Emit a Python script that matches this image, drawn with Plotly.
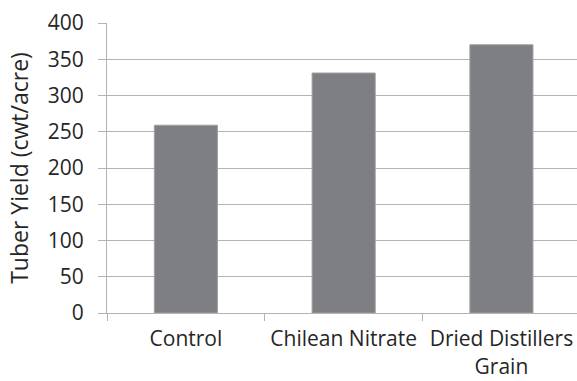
import plotly.graph_objects as go

# Tuber yield by nitrogen source
treatments = ["Control", "Chilean Nitrate", "Dried Distillers<br>Grain"]
yield_cwt = [259, 331, 370]
y_ticks = [0, 50, 100, 150, 200, 250, 300, 350, 400]

FONT = "Open Sans"
TEXT = "#262626"
GRID = "#b3b3b3"

fig = go.Figure(
    go.Bar(
        x=treatments,
        y=yield_cwt,
        width=0.40,
        marker=dict(color="#7e7f83", line=dict(color="#a0a0a3", width=1)),
    )
)

fig.update_layout(
    width=577,
    height=381,
    margin=dict(l=107, r=0, t=23, b=68),
    paper_bgcolor="white",
    plot_bgcolor="white",
    showlegend=False,
    font=dict(family=FONT, size=20, color=TEXT),
)

fig.update_xaxes(
    range=[-0.5, 2.479],
    showgrid=False,
    showline=True,
    linecolor=GRID,
    linewidth=1,
    ticks="outside",
    tickson="boundaries",
    ticklen=7,
    tickcolor=GRID,
    ticklabelstandoff=7,
    tickfont=dict(family=FONT, size=21, color=TEXT),
)

fig.update_yaxes(
    range=[0, 400],
    tickvals=y_ticks,
    showgrid=True,
    gridcolor=GRID,
    gridwidth=1,
    showline=True,
    linecolor=GRID,
    linewidth=1,
    ticks="outside",
    ticklen=8,
    tickcolor=GRID,
    zeroline=False,
    ticklabelstandoff=10,
    tickfont=dict(family=FONT, size=21, color=TEXT),
    title=dict(text="Tuber Yield (cwt/acre)", font=dict(family=FONT, size=23, color=TEXT), standoff=12),
)

fig.write_html("out.html")
